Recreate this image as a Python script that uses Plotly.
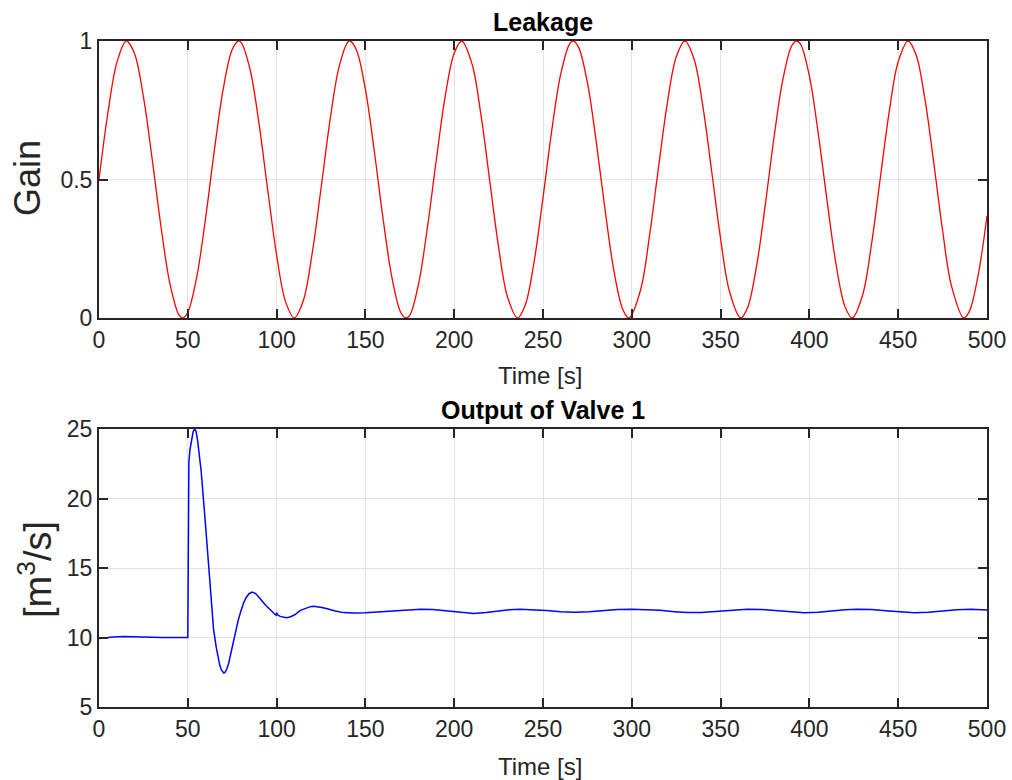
import plotly.graph_objects as go
from plotly.subplots import make_subplots

# ---- data: Leakage gain (top) ----
leak_t = [
    0, 5, 10, 15, 15.71, 20, 25, 30, 35, 40, 45, 47.12, 50, 55, 60, 65, 70, 75,
    78.54, 80, 85, 90, 95, 100, 105, 109.96, 115, 120, 125, 130, 135, 140,
    141.37, 145, 150, 155, 160, 165, 170, 172.79, 175, 180, 185, 190, 195, 200,
    204.20, 210, 215, 220, 225, 230, 235.62, 240, 245, 250, 255, 260, 265,
    267.04, 270, 275, 280, 285, 290, 295, 298.45, 305, 310, 315, 320, 325,
    329.87, 335, 340, 345, 350, 355, 361.28, 365, 370, 375, 380, 385, 390,
    392.70, 395, 400, 405, 410, 415, 420, 424.12, 430, 435, 440, 445, 450,
    455.53, 460, 465, 470, 475, 480, 486.95, 490, 495, 500,
]
leak_gain = [
    0.500, 0.740, 0.921, 0.999, 1.000, 0.955, 0.799, 0.571, 0.325, 0.122, 0.011,
    0.000, 0.021, 0.147, 0.360, 0.608, 0.829, 0.969,
    1.000, 0.995, 0.899, 0.706, 0.462, 0.228, 0.060, 0.000, 0.062, 0.232,
    0.467, 0.710, 0.902, 0.995,
    1.000, 0.967, 0.825, 0.603, 0.356, 0.144, 0.019, 0.000, 0.010, 0.125,
    0.331, 0.575, 0.803, 0.956,
    1.000, 0.918, 0.736, 0.496, 0.256, 0.077, 0.000, 0.047, 0.204, 0.434,
    0.680, 0.881, 0.990,
    1.000, 0.978, 0.850, 0.635, 0.388, 0.168, 0.030, 0.000, 0.103, 0.298,
    0.542, 0.776, 0.942,
    1.000, 0.936, 0.765, 0.529, 0.286, 0.096, 0.000, 0.034, 0.178, 0.401,
    0.648, 0.859, 0.982,
    1.000, 0.989, 0.873, 0.665, 0.421, 0.194, 0.042, 0.000, 0.084, 0.268,
    0.509, 0.747, 0.925,
    1.000, 0.951, 0.792, 0.562, 0.316, 0.116, 0.000, 0.023, 0.154, 0.369,
]

# ---- data: Output of Valve 1 (bottom) ----
valve_t = [
    0, 3, 8, 14, 20, 28, 35, 50.0, 50.2, 50.6, 51.2, 52, 53, 53.8, 54.6, 55.5,
    56.5, 57.5, 59.8, 61.1, 62, 64.5, 66, 67, 68, 69, 70.3, 71, 72, 73, 74,
    76, 78.5, 80, 81.6, 83, 84.5, 86.3, 88, 89.5, 91, 92.5, 94, 96.6, 98.5,
    99.6, 100.1, 100.6, 102, 103.5, 105.5, 107.5, 110, 113.4, 117, 119,
    120.9, 123, 125.5, 128.5, 133, 137.8, 143, 150, 158, 166, 174, 181, 188,
    195, 203, 211, 218, 225, 231, 237, 244, 252, 260, 268, 276, 284, 292,
    300, 308, 316, 324, 331, 339, 348, 356, 365, 373, 381, 389, 397, 405,
    412, 420, 427, 435, 443, 451, 459, 467, 475, 483, 491, 500,
]
valve_q = [
    9.93, 9.98, 10.04, 10.07, 10.04, 10.01, 10.0, 10.0, 21.0, 22.6, 23.5,
    24.2, 24.8, 25.0, 24.85, 24.2, 23.1, 22.0, 18.4, 16.1, 14.6, 10.6, 9.3,
    8.6, 8.0, 7.65, 7.45, 7.5, 7.75, 8.15, 8.7, 10.0, 11.3, 11.95, 12.55,
    12.9, 13.15, 13.27, 13.18, 12.98, 12.78, 12.52, 12.3, 11.95, 11.72,
    11.6, 11.78, 11.62, 11.52, 11.46, 11.43, 11.48, 11.62, 11.95, 12.15,
    12.22, 12.24, 12.22, 12.15, 12.07, 11.9, 11.79, 11.76, 11.78, 11.85,
    11.94, 12.01, 12.04, 12.01, 11.92, 11.8, 11.72, 11.8, 11.92, 12.0,
    12.03, 12.01, 11.94, 11.86, 11.82, 11.86, 11.94, 12.01, 12.04, 12.02,
    11.96, 11.86, 11.79, 11.8, 11.88, 11.98, 12.04, 12.02, 11.94, 11.84,
    11.78, 11.82, 11.92, 12.0, 12.04, 12.02, 11.93, 11.83, 11.78, 11.82,
    11.92, 12.0, 12.04, 11.98,
]

x_ticks = [0, 50, 100, 150, 200, 250, 300, 350, 400, 450, 500]
top_y_ticks = [0, 0.5, 1]
top_y_labels = ["0", "0.5", "1"]
bot_y_ticks = [5, 10, 15, 20, 25]

FONT = "Liberation Sans, Arial, sans-serif"
AX = "#262626"
GRID = "#e3e3e3"

fig = make_subplots(rows=2, cols=1)

fig.add_trace(go.Scatter(x=leak_t, y=leak_gain, mode="lines",
                         line=dict(color="#ff0000", width=1.3, shape="spline", smoothing=1),
                         showlegend=False), row=1, col=1)
fig.add_trace(go.Scatter(x=valve_t, y=valve_q, mode="lines",
                         line=dict(color="#0000ff", width=1.5),
                         showlegend=False), row=2, col=1)

W, H = 1012, 780
xdom = [99 / W, 987 / W]
axis_common = dict(showline=True, linecolor=AX, linewidth=2, mirror="ticks",
                   ticks="inside", ticklen=9, tickwidth=2, tickcolor=AX,
                   showgrid=True, gridcolor=GRID, gridwidth=1, zeroline=False,
                   automargin=False,
                   tickfont=dict(family=FONT, size=23, color=AX))

fig.update_layout(
    width=W, height=H, margin=dict(l=0, r=0, t=0, b=0, autoexpand=False),
    paper_bgcolor="white", plot_bgcolor="white",
    xaxis=dict(domain=xdom, range=[0, 500], tickvals=x_ticks, anchor="y", **axis_common),
    yaxis=dict(domain=[1 - 318 / H, 1 - 41 / H], range=[0, 1], tickvals=top_y_ticks,
               ticktext=top_y_labels, anchor="x", **axis_common),
    xaxis2=dict(domain=xdom, range=[0, 500], tickvals=x_ticks, anchor="y2", **axis_common),
    yaxis2=dict(domain=[1 - 707 / H, 1 - 429 / H], range=[5, 25], tickvals=bot_y_ticks,
                anchor="x2", **axis_common),
)

def ann(text, x, y, size, bold=False, angle=0):
    fig.add_annotation(text=("<b>%s</b>" % text) if bold else text,
                       xref="paper", yref="paper", x=x / W, y=1 - y / H,
                       xanchor="center", yanchor="middle", showarrow=False,
                       textangle=angle,
                       font=dict(family=FONT, size=size, color="#000000" if bold else AX))

ann("Leakage", 543, 22, 25, bold=True)
ann("Output of Valve 1", 543, 410, 25, bold=True)
ann("Time [s]", 540, 375, 24)
ann("Time [s]", 540, 766, 24)
ann("Gain", 28, 178, 36, angle=-90)
ann("[m<sup>3</sup>/s]", 35, 570, 38, angle=-90)

fig.write_html("out.html")
